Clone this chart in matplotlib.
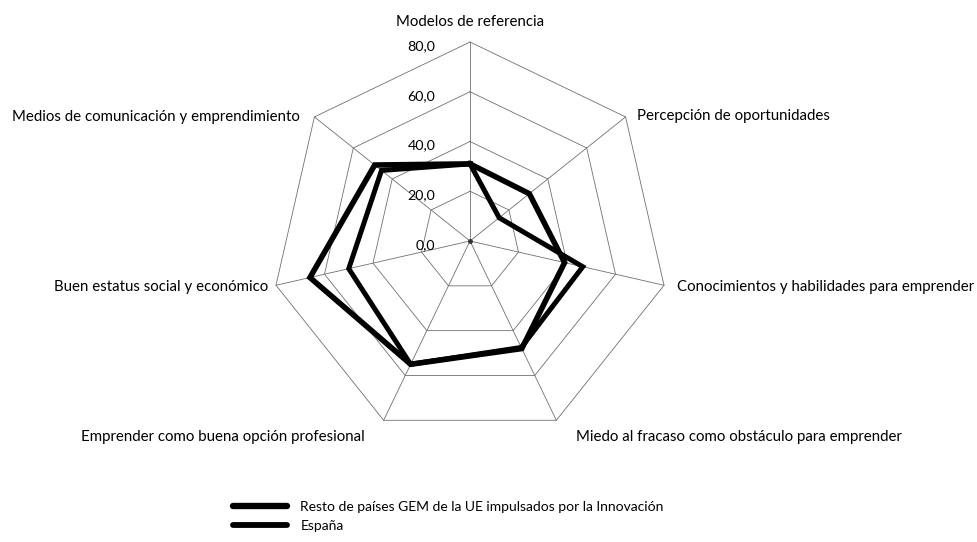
import numpy as np
import matplotlib
matplotlib.use("Agg")
import matplotlib.pyplot as plt
from matplotlib.lines import Line2D

plt.rcParams['font.family'] = ['Lato', 'DejaVu Sans']

categories = [
    "Modelos de referencia",
    "Percepción de oportunidades",
    "Conocimientos y habilidades para emprender",
    "Miedo al fracaso como obstáculo para emprender",
    "Emprender como buena opción profesional",
    "Buen estatus social y económico",
    "Medios de comunicación y emprendimiento",
]
resto_ue = [31.0, 30.5, 39.0, 48.0, 55.0, 66.0, 49.0]
espana = [31.0, 15.0, 46.5, 47.5, 55.0, 50.0, 45.5]
series_names = ["Resto de países GEM de la UE impulsados por la Innovación", "España"]
ticks = [0, 20, 40, 60, 80]
tick_labels = ["0,0", "20,0", "40,0", "60,0", "80,0"]

W, H = 977, 542
cx, cy = 470, 241          # centre in pixels
ppu = 199 / 80.0           # pixels per unit

fig = plt.figure(figsize=(W / 100, H / 100), dpi=100)
ax = fig.add_axes([0, 0, 1, 1])
ax.set_xlim(-cx / ppu, (W - cx) / ppu)
ax.set_ylim(-(H - cy) / ppu, cy / ppu)
ax.axis("off")

n = len(categories)
ang = np.pi / 2 - np.arange(n) * 2 * np.pi / n


def xy(vals):
    v = np.asarray(vals, dtype=float)
    x = v * np.cos(ang)
    y = v * np.sin(ang)
    return np.append(x, x[0]), np.append(y, y[0])


grid_col = "#707070"
for t in ticks[1:]:
    gx, gy = xy([t] * n)
    ax.plot(gx, gy, color=grid_col, lw=0.6, zorder=1)
for a in ang:
    ax.plot([0, 80 * np.cos(a)], [0, 80 * np.sin(a)], color=grid_col, lw=0.6, zorder=1)
ax.plot(0, 0, "o", color="#333333", ms=2.5, zorder=1)

for t, lab in zip(ticks, tick_labels):
    ax.text(-14, t - 1.6, lab, ha="right", va="center", fontsize=10.3, color="black", zorder=2)

for vals, lw in [(resto_ue, 4.0), (espana, 3.6)]:
    px, py = xy(vals)
    ax.plot(px, py, color="black", lw=lw, solid_joinstyle="miter", zorder=3)

# category labels (pixel positions)
lab_pos = [
    (470, 22, "center"),
    (637, 116, "left"),
    (677, 287, "left"),
    (576, 437, "left"),
    (365, 437, "right"),
    (268, 287, "right"),
    (300, 117, "right"),
]
for cat, (x, y, ha) in zip(categories, lab_pos):
    fig.text(x / W, 1 - y / H, cat, ha=ha, va="center", fontsize=10.8, color="black")

handles = [Line2D([0], [0], color="black", lw=4.6, solid_capstyle="round"),
           Line2D([0], [0], color="black", lw=4.2, solid_capstyle="round")]
fig.legend(handles, series_names, loc="upper left", bbox_to_anchor=(226 / W, 1 - 494 / H),
           frameon=False, fontsize=10.0, handlelength=3.9, handletextpad=0.95,
           labelspacing=0.5, borderpad=0)

fig.savefig("out.png", dpi=100)
